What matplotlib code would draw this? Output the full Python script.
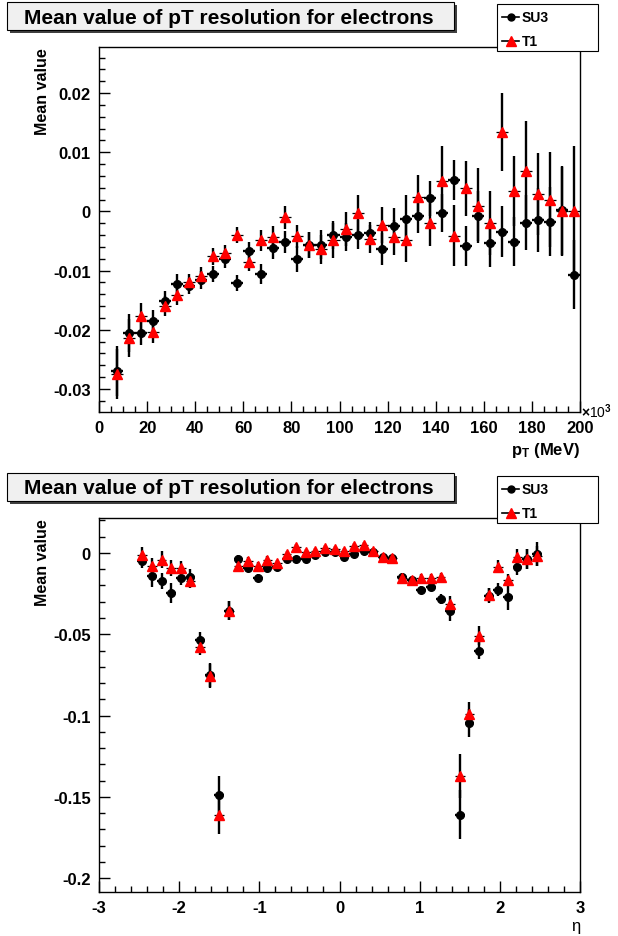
import numpy as np
import matplotlib
matplotlib.use('Agg')
import matplotlib.pyplot as plt
from matplotlib.lines import Line2D
from matplotlib.patches import Rectangle
from matplotlib.ticker import MultipleLocator, FuncFormatter

plt.rcParams['font.family'] = ['Liberation Sans', 'DejaVu Sans']
plt.rcParams['font.weight'] = 'bold'
plt.rcParams['axes.unicode_minus'] = False
plt.rcParams['mathtext.fontset'] = 'custom'
plt.rcParams['mathtext.rm'] = 'Liberation Sans'
plt.rcParams['mathtext.bf'] = 'Liberation Sans:bold'
plt.rcParams['mathtext.it'] = 'Liberation Sans:italic'

# ---- pT panel (x in units of 10^3 MeV) ----
pt = [7.5, 12.5, 17.5, 22.5, 27.5, 32.5, 37.5, 42.5, 47.5, 52.5,
      57.5, 62.5, 67.5, 72.5, 77.5, 82.5, 87.5, 92.5, 97.5, 102.5,
      107.5, 112.5, 117.5, 122.5, 127.5, 132.5, 137.5, 142.5, 147.5, 152.5,
      157.5, 162.5, 167.5, 172.5, 177.5, 182.5, 187.5, 192.5, 197.5]
su3_pt = [-0.0270, -0.0205, -0.0205, -0.0185, -0.0151, -0.0122, -0.0126, -0.0116, -0.0106, -0.0080,
          -0.0121, -0.0067, -0.0105, -0.0061, -0.0052, -0.0081, -0.0056, -0.0056, -0.0040, -0.0043,
          -0.0039, -0.0036, -0.0064, -0.0024, -0.0013, -0.0007, 0.0022, -0.0002, 0.0053, -0.0058,
          -0.0008, -0.0053, -0.0034, -0.0051, -0.0019, -0.0015, -0.0017, 0.0002, -0.0107]
su3_pt_err = [0.0042, 0.0032, 0.0021, 0.0018, 0.0017, 0.0016, 0.0014, 0.0015, 0.0014, 0.0015,
              0.0014, 0.0015, 0.0017, 0.0019, 0.0019, 0.0022, 0.0022, 0.0025, 0.0024, 0.0024,
              0.0024, 0.0019, 0.0027, 0.0029, 0.0040, 0.0030, 0.0029, 0.0032, 0.0034, 0.0034,
              0.0042, 0.0041, 0.0043, 0.0041, 0.0046, 0.0054, 0.0058, 0.0075, 0.0058]
t1_pt = [-0.0275, -0.0214, -0.0177, -0.0204, -0.0160, -0.0142, -0.0120, -0.0109, -0.0076, -0.0071,
         -0.0040, -0.0086, -0.0049, -0.0044, -0.0010, -0.0042, -0.0057, -0.0064, -0.0049, -0.0030,
         -0.0003, -0.0047, -0.0023, -0.0044, -0.0049, 0.0025, -0.0019, 0.0051, -0.0041, 0.0039,
         0.0010, -0.0019, 0.0134, 0.0034, 0.0068, 0.0029, 0.0020, 0.0000, 0.0000]
t1_pt_err = [0.0042, 0.0032, 0.0022, 0.0018, 0.0017, 0.0016, 0.0014, 0.0015, 0.0014, 0.0015,
             0.0014, 0.0015, 0.0017, 0.0019, 0.0019, 0.0019, 0.0022, 0.0025, 0.0029, 0.0029,
             0.0030, 0.0024, 0.0030, 0.0030, 0.0036, 0.0037, 0.0039, 0.0059, 0.0052, 0.0046,
             0.0064, 0.0054, 0.0066, 0.0059, 0.0085, 0.0069, 0.0080, 0.0075, 0.0110]
pt_halfwidth = 2.5

# ---- eta panel ----
eta = [-2.46, -2.34, -2.22, -2.10, -1.98, -1.86, -1.74, -1.62, -1.50, -1.38,
       -1.26, -1.14, -1.02, -0.90, -0.78, -0.66, -0.54, -0.42, -0.30, -0.18,
       -0.06, 0.06, 0.18, 0.30, 0.42, 0.54, 0.66, 0.78, 0.90, 1.02,
       1.14, 1.26, 1.38, 1.50, 1.62, 1.74, 1.86, 1.98, 2.10, 2.22,
       2.34, 2.46]
su3_eta = [-0.0049, -0.0140, -0.0173, -0.0247, -0.0154, -0.0145, -0.0535, -0.0748, -0.1486, -0.0355,
           -0.0039, -0.0093, -0.0154, -0.0093, -0.0084, -0.0038, -0.0037, -0.0037, -0.0010, 0.0006,
           0.0006, -0.0027, -0.0006, 0.0014, 0.0008, -0.0027, -0.0033, -0.0145, -0.0164, -0.0227,
           -0.0207, -0.0283, -0.0359, -0.1610, -0.1048, -0.0600, -0.0262, -0.0226, -0.0273, -0.0088,
           -0.0037, -0.0006]
su3_eta_err = [0.0043, 0.0068, 0.0050, 0.0060, 0.0040, 0.0045, 0.0050, 0.0074, 0.0117, 0.0060,
               0.0025, 0.0025, 0.0025, 0.0022, 0.0022, 0.0020, 0.0018, 0.0018, 0.0018, 0.0018,
               0.0018, 0.0020, 0.0018, 0.0018, 0.0018, 0.0020, 0.0020, 0.0022, 0.0022, 0.0025,
               0.0025, 0.0028, 0.0060, 0.0150, 0.0086, 0.0050, 0.0045, 0.0040, 0.0080, 0.0050,
               0.0060, 0.0074]
t1_eta = [-0.0012, -0.0078, -0.0041, -0.0092, -0.0092, -0.0170, -0.0580, -0.0755, -0.1610, -0.0355,
          -0.0079, -0.0050, -0.0078, -0.0041, -0.0063, -0.0006, 0.0037, 0.0008, 0.0014, 0.0029,
          0.0025, 0.0011, 0.0045, 0.0049, 0.0012, -0.0027, -0.0033, -0.0156, -0.0164, -0.0155,
          -0.0152, -0.0150, -0.0314, -0.1370, -0.0990, -0.0509, -0.0258, -0.0084, -0.0164, -0.0027,
          -0.0037, -0.0020]
t1_eta_err = [0.0050, 0.0050, 0.0050, 0.0050, 0.0040, 0.0045, 0.0050, 0.0074, 0.0117, 0.0060,
              0.0025, 0.0025, 0.0025, 0.0022, 0.0022, 0.0020, 0.0018, 0.0018, 0.0018, 0.0018,
              0.0018, 0.0020, 0.0018, 0.0018, 0.0018, 0.0020, 0.0020, 0.0022, 0.0022, 0.0025,
              0.0025, 0.0028, 0.0050, 0.0134, 0.0074, 0.0060, 0.0045, 0.0040, 0.0035, 0.0050,
              0.0060, 0.0060]
eta_halfwidth = 0.06

title = "Mean value of pT resolution for electrons"
W, H = 618, 937

fig = plt.figure(figsize=(W / 100, H / 100), dpi=100)


def fx(px):
    return px / W


def fy(py):
    return 1 - py / H


def draw_series(ax, x, y, yerr, xhw):
    ax.errorbar(x, y[0], yerr=yerr[0], xerr=xhw, fmt='o', color='black', ms=5.5,
                elinewidth=1.7, capsize=0, zorder=3)
    # T1: vertical bars solid, horizontal bars dotted
    ax.errorbar(x, y[1], yerr=yerr[1], fmt='none', ecolor='black',
                elinewidth=1.7, capsize=0, zorder=3)
    ax.errorbar(x, y[1], xerr=xhw, fmt='none', ecolor='black',
                elinewidth=0.9, capsize=0, linestyle=':', zorder=3)
    ax.plot(x, y[1], '^', color='red', ms=7, zorder=4)


def style_axis(ax):
    ax.tick_params(which='both', direction='in', top=False, right=False,
                   labelsize=12, width=1)
    ax.tick_params(which='major', length=8)
    ax.tick_params(which='minor', length=4)
    ax.tick_params(axis='y', pad=6)
    ax.tick_params(axis='x', pad=6)
    for s in ax.spines.values():
        s.set_linewidth(1.0)
    ax.yaxis.set_major_formatter(FuncFormatter(lambda v, p: '%g' % round(v, 4)))
    ax.xaxis.set_major_formatter(FuncFormatter(lambda v, p: '%g' % round(v, 4)))


def title_box(top):
    x0, x1 = 7, 454
    y0, y1 = top, top + 28
    fig.add_artist(Rectangle((fx(x0 + 3), fy(y1 + 3)), fx(x1 - x0), (y1 - y0) / H,
                             transform=fig.transFigure, facecolor='#404040',
                             edgecolor='none', zorder=5))
    fig.add_artist(Rectangle((fx(x0), fy(y1)), fx(x1 - x0), (y1 - y0) / H,
                             transform=fig.transFigure, facecolor='#f0f0f0',
                             edgecolor='black', lw=0.8, zorder=6))
    fig.text(fx(229), fy((y0 + y1) / 2 + 1), title, ha='center', va='center',
             fontsize=15, fontweight='bold', zorder=7)


def legend_box(top):
    x0, x1 = 497, 598
    y0, y1 = top, top + 47
    fig.add_artist(Rectangle((fx(x0), fy(y1)), fx(x1 - x0), (y1 - y0) / H,
                             transform=fig.transFigure, facecolor='white',
                             edgecolor='black', lw=0.8, zorder=6))
    for k, (lab, mk, mc, ms) in enumerate([('SU3', 'o', 'black', 5),
                                           ('T1', '^', 'red', 6.5)]):
        yy = fy(top + 13 + 24 * k)
        fig.add_artist(Line2D([fx(502), fx(519)], [yy, yy], transform=fig.transFigure,
                              color='black', lw=1.2, zorder=7))
        fig.add_artist(Line2D([fx(510.5)], [yy], transform=fig.transFigure, marker=mk,
                              ms=ms, color=mc, lw=0, zorder=8))
        fig.text(fx(522), yy, lab, ha='left', va='center', fontsize=10,
                 fontweight='bold', zorder=8)


# ---- top pad ----
top1, bot1 = 48, 413
ax1 = fig.add_axes([fx(99), fy(bot1), fx(580 - 99), (bot1 - top1) / H])
draw_series(ax1, pt, (su3_pt, t1_pt), (su3_pt_err, t1_pt_err), pt_halfwidth)
ax1.set_xlim(0, 200)
ax1.set_ylim(-0.0339, 0.0278)
ax1.xaxis.set_major_locator(MultipleLocator(20))
ax1.xaxis.set_minor_locator(MultipleLocator(5))
ax1.yaxis.set_major_locator(MultipleLocator(0.01))
ax1.yaxis.set_minor_locator(MultipleLocator(0.002))
style_axis(ax1)
ax1.set_ylabel('Mean value', loc='top', fontsize=11.5, fontweight='bold')
ax1.yaxis.set_label_coords(-(99 - 50) / 481, 1.0)
ax1.set_xlabel(r'$\mathbf{p_{T}}$ (MeV)', loc='right', fontsize=12, fontweight='bold')
ax1.xaxis.set_label_coords(1.0, -(441 - bot1) / (bot1 - top1))
fig.text(fx(581), fy(412), r'$\times$10$^{3}$', ha='left', va='center', fontsize=10,
         fontweight='normal')

# ---- bottom pad ----
top2, bot2 = 519, 893
ax2 = fig.add_axes([fx(99), fy(bot2), fx(580 - 99), (bot2 - top2) / H])
draw_series(ax2, eta, (su3_eta, t1_eta), (su3_eta_err, t1_eta_err), eta_halfwidth)
ax2.set_xlim(-3, 3)
ax2.set_ylim(-0.2085, 0.0215)
ax2.xaxis.set_major_locator(MultipleLocator(1))
ax2.xaxis.set_minor_locator(MultipleLocator(0.2))
ax2.yaxis.set_major_locator(MultipleLocator(0.05))
ax2.yaxis.set_minor_locator(MultipleLocator(0.01))
style_axis(ax2)
ax2.set_ylabel('Mean value', loc='top', fontsize=11.5, fontweight='bold')
ax2.yaxis.set_label_coords(-(99 - 50) / 481, 1.0)
ax2.set_xlabel('\u03b7', loc='right', fontsize=12, fontweight='normal')
ax2.xaxis.set_label_coords(1.0, -(919 - bot2) / (bot2 - top2))

title_box(3)
legend_box(5)
title_box(474)
legend_box(477)

fig.savefig('out.png', dpi=100)
